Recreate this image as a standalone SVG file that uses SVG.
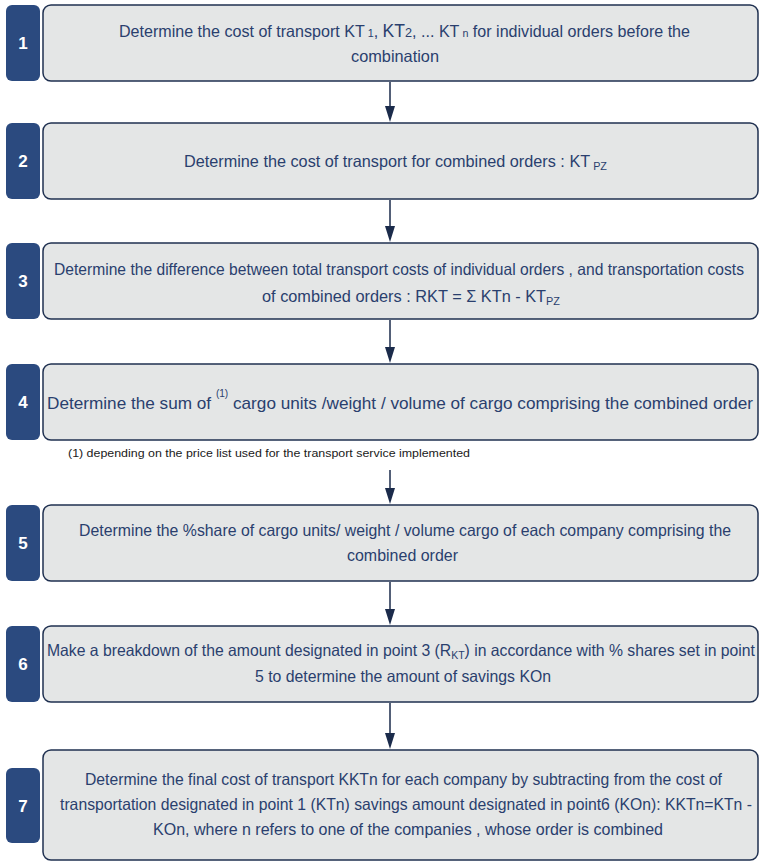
<svg xmlns="http://www.w3.org/2000/svg" width="759" height="861" viewBox="0 0 759 861">
  <defs>
    <style>
      .box { fill: #e4e6e6; stroke: #1f3050; stroke-width: 1.5; }
      .badge { fill: #2b4a7f; }
      .num { fill: #ffffff; font-family: "Liberation Sans", Arial, sans-serif; font-size: 17px; font-weight: bold; text-anchor: middle; }
      .t { fill: #2a3f6e; font-family: "Liberation Sans", Arial, sans-serif; font-size: 16.5px; }
      .t4 { fill: #2a3f6e; font-family: "Liberation Sans", Arial, sans-serif; font-size: 17px; }
      .note { fill: #1a1a1a; font-family: "Liberation Sans", Arial, sans-serif; font-size: 11px; }
      .sub { font-size: 11px; }
      .low { font-size: 11px; baseline-shift: -3px; }
      .conn { stroke: #1b2b4b; stroke-width: 1.5; fill: none; }
      .head { fill: #1b2b4b; }
    </style>
  </defs>

  <!-- vertical flow arrows between the steps -->
  <g id="connectors">
    <line class="conn" x1="390" y1="82" x2="390" y2="110"/>
    <path class="head" d="M385,106 L395,106 L390,122 Z"/>
    <line class="conn" x1="390" y1="200" x2="390" y2="230"/>
    <path class="head" d="M385,226 L395,226 L390,242 Z"/>
    <line class="conn" x1="390" y1="320" x2="390" y2="351"/>
    <path class="head" d="M385,347 L395,347 L390,363 Z"/>
    <line class="conn" x1="390" y1="470" x2="390" y2="492"/>
    <path class="head" d="M385,488 L395,488 L390,504 Z"/>
    <line class="conn" x1="390" y1="582" x2="390" y2="613"/>
    <path class="head" d="M385,609 L395,609 L390,625 Z"/>
    <line class="conn" x1="390" y1="703" x2="390" y2="737"/>
    <path class="head" d="M385,733 L395,733 L390,749 Z"/>
  </g>

  <g id="step1">
    <rect class="badge" x="6" y="5" width="34" height="76" rx="6"/>
    <text class="num" x="23" y="49">1</text>
    <rect class="box" x="43" y="5" width="715" height="76" rx="8"/>
    <text class="t" x="119" y="37" textLength="571" lengthAdjust="spacingAndGlyphs">Determine the cost of transport KT<tspan class="sub"> 1</tspan>, <tspan font-size="18">KT</tspan><tspan font-size="13">2</tspan>, ... KT<tspan class="sub"> n</tspan> for individual orders before the</text>
    <text class="t" x="351" y="62" textLength="88" lengthAdjust="spacingAndGlyphs">combination</text>
  </g>

  <g id="step2">
    <rect class="badge" x="6" y="123" width="34" height="76" rx="6"/>
    <text class="num" x="23" y="167">2</text>
    <rect class="box" x="43" y="123" width="715" height="76" rx="8"/>
    <text class="t" x="184" y="167" textLength="423" lengthAdjust="spacingAndGlyphs">Determine the cost of transport for combined orders :  KT<tspan class="low"> PZ</tspan></text>
  </g>

  <g id="step3">
    <rect class="badge" x="6" y="243" width="34" height="76" rx="6"/>
    <text class="num" x="23" y="287">3</text>
    <rect class="box" x="43" y="243" width="715" height="76" rx="8"/>
    <text class="t" x="54" y="275" textLength="690" lengthAdjust="spacingAndGlyphs">Determine the difference between total transport costs of individual orders , and transportation costs</text>
    <text class="t" x="262" y="302" textLength="298" lengthAdjust="spacingAndGlyphs">of combined orders :  RKT = Σ KTn  -  KT<tspan class="low">PZ</tspan></text>
  </g>

  <g id="step4">
    <rect class="badge" x="6" y="364" width="34" height="76" rx="6"/>
    <text class="num" x="23" y="408">4</text>
    <rect class="box" x="43" y="364" width="715" height="76" rx="8"/>
    <text class="t4" x="47" y="409" textLength="706" lengthAdjust="spacingAndGlyphs">Determine the sum of <tspan font-size="10" baseline-shift="12">(1)</tspan> cargo units  /weight  / volume of cargo comprising the combined order</text>
  </g>

  <g id="footnote">
    <text class="note" x="68" y="457" textLength="402" lengthAdjust="spacingAndGlyphs">(1) depending on the price list used for the transport service implemented</text>
  </g>

  <g id="step5">
    <rect class="badge" x="6" y="505" width="34" height="76" rx="6"/>
    <text class="num" x="23" y="549">5</text>
    <rect class="box" x="43" y="505" width="715" height="76" rx="8"/>
    <text class="t" x="79" y="536" textLength="652" lengthAdjust="spacingAndGlyphs">Determine the %share of cargo units/ weight  /  volume cargo of each company comprising the</text>
    <text class="t" x="347" y="561" textLength="111" lengthAdjust="spacingAndGlyphs">combined order</text>
  </g>

  <g id="step6">
    <rect class="badge" x="6" y="626" width="34" height="76" rx="6"/>
    <text class="num" x="23" y="670">6</text>
    <rect class="box" x="43" y="626" width="715" height="76" rx="8"/>
    <text class="t" x="47" y="656" textLength="708" lengthAdjust="spacingAndGlyphs">Make a breakdown of the amount designated in point  3 (R<tspan class="low">KT</tspan>) in accordance with % shares set in point</text>
    <text class="t" x="255" y="682" textLength="296" lengthAdjust="spacingAndGlyphs">5 to determine the amount of savings KOn</text>
  </g>

  <g id="step7">
    <rect class="badge" x="6" y="768" width="34" height="75" rx="6"/>
    <text class="num" x="23" y="812">7</text>
    <rect class="box" x="43" y="750" width="715" height="110" rx="8"/>
    <text class="t" x="85" y="785" textLength="637" lengthAdjust="spacingAndGlyphs">Determine the final cost of transport KKTn for each company by subtracting from the cost of</text>
    <text class="t" x="60" y="810" textLength="692" lengthAdjust="spacingAndGlyphs">transportation designated in point  1 (KTn) savings amount designated in point6 (KOn): KKTn=KTn  -</text>
    <text class="t" x="153" y="835" textLength="510" lengthAdjust="spacingAndGlyphs">KOn, where n refers to one of the companies ,  whose order is combined</text>
  </g>
</svg>
